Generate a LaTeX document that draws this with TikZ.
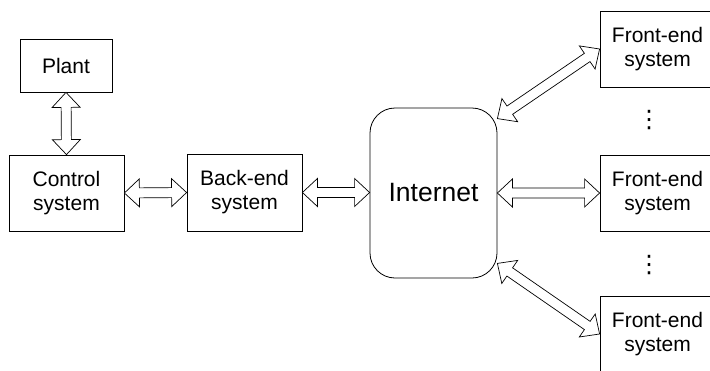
\documentclass[tikz,border=0pt]{standalone}
\usepackage{fontspec}
\setmainfont{Liberation Sans}
\newfontfamily\symfont{DejaVu Sans}
\usetikzlibrary{calc}
\tikzset{
  box/.style={draw, line width=0.8pt, inner sep=0pt, align=center,
    minimum width=115pt, minimum height=76pt,
    font=\fontsize{21}{24}\selectfont},
  arr/.style={draw, line width=0.7pt, fill=white, line join=miter},
  dotsnode/.style={inner sep=0pt, font=\symfont\fontsize{24}{28}\selectfont}
}
\newcommand{\dblarrow}[2]{%
  \path[arr] (#1)
    -- ($(#1)!15pt!(#2)!14pt!90:(#2)$)
    -- ($(#1)!15pt!(#2)!5pt!90:(#2)$)
    -- ($(#2)!15pt!(#1)!5pt!-90:(#1)$)
    -- ($(#2)!15pt!(#1)!14pt!-90:(#1)$)
    -- (#2)
    -- ($(#2)!15pt!(#1)!14pt!90:(#1)$)
    -- ($(#2)!15pt!(#1)!5pt!90:(#1)$)
    -- ($(#1)!15pt!(#2)!5pt!-90:(#2)$)
    -- ($(#1)!15pt!(#2)!14pt!-90:(#2)$)
    -- cycle;}
\begin{document}
\begin{tikzpicture}[x=1pt,y=-1pt]
\fill[white] (0,0) rectangle (710,370);
\useasboundingbox (0,0) rectangle (710,370);
\node[box, minimum width=92pt, minimum height=53pt] (plant) at (66,65.5) {Plant};
\node[box] (control) at (66.5,193) {Control\\system};
\node[box, minimum height=77pt] (backend) at (244.5,192.5) {Back-end\\system};
\node[box, minimum width=127pt, minimum height=170pt, rounded corners=25pt,
  font=\fontsize{26.5}{30}\selectfont] (internet) at (433.5,193) {Internet};
\node[box] (fe1) at (657.5,49) {Front-end\\system};
\node[box] (fe2) at (657.5,193) {Front-end\\system};
\node[box] (fe3) at (657.5,334) {Front-end\\system};
\node[dotsnode] (d1) at (649,120) {⋮};
\node[dotsnode] (d2) at (649,265) {⋮};
\coordinate (iw) at (backend.east -| internet.west);
\coordinate (ie) at (fe2.west -| internet.east);
\coordinate (it) at ($(internet.north east)+(0,11)$);
\coordinate (ib) at ($(internet.south east)+(0,-15)$);
\dblarrow{plant.south}{control.north}
\dblarrow{control.east}{backend.west}
\dblarrow{backend.east}{iw}
\dblarrow{ie}{fe2.west}
\dblarrow{it}{fe1.west}
\dblarrow{ib}{fe3.west}
\end{tikzpicture}
\end{document}
